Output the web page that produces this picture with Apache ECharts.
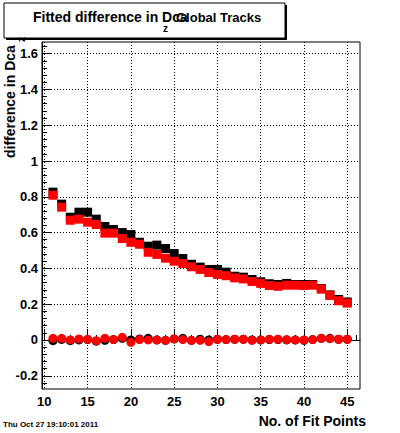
<!DOCTYPE html>
<html>
<head>
<meta charset="utf-8">
<script src="https://cdn.jsdelivr.net/npm/echarts@6/dist/echarts.min.js"></script>
<style>
html,body{margin:0;padding:0;background:#fff;}
#c{width:400px;height:433px;}
</style>
</head>
<body>
<div id="c"></div>
<script>
// ---- data ----
var fitPoints = [11,12,13,14,15,16,17,18,19,20,21,22,23,24,25,26,27,28,29,30,31,32,33,34,35,36,37,38,39,40,41,42,43,44,45];
var blackSigma = [0.826,0.759,0.686,0.714,0.714,0.675,0.634,0.617,0.600,0.589,0.546,0.524,0.530,0.511,0.483,0.455,0.423,0.407,0.394,0.394,0.379,0.356,0.351,0.338,0.325,0.314,0.310,0.316,0.310,0.310,0.310,0.287,0.252,0.226,0.212];
var redSigma   = [0.809,0.742,0.669,0.675,0.658,0.645,0.597,0.597,0.567,0.546,0.535,0.490,0.478,0.457,0.440,0.427,0.409,0.394,0.377,0.366,0.359,0.347,0.341,0.327,0.316,0.304,0.300,0.306,0.306,0.304,0.306,0.284,0.249,0.219,0.206];
var blackMean  = [-0.004,0.003,-0.004,0.000,0.002,-0.007,-0.002,0.002,0.009,0.000,0.006,0.009,0.000,-0.002,0.006,0.009,-0.002,0.004,0.000,0.004,0.002,0.004,0.004,0.000,0.000,0.002,0.002,0.000,0.000,-0.002,0.002,0.009,0.009,0.004,0.004];
var redMean    = [0.009,0.009,0.000,0.006,0.004,-0.004,0.009,0.002,0.015,-0.013,0.002,0.000,0.000,-0.002,0.006,0.002,-0.002,-0.002,-0.009,0.004,0.002,0.004,0.004,-0.002,0.000,0.004,0.004,0.002,0.000,0.000,0.002,0.009,0.007,0.004,0.004];
var xMajorTicks = [10,15,20,25,30,35,40,45];
var xMinorTicks = [10,11,12,13,14,15,16,17,18,19,20,21,22,23,24,25,26,27,28,29,30,31,32,33,34,35,36,37,38,39,40,41,42,43,44,45,46];
var yMajorTicks = [-0.2,0,0.2,0.4,0.6,0.8,1.0,1.2,1.4,1.6];
var titleMain = 'Fitted difference in Dca';
var titleSub = 'z';
var titleTail = 'Global Tracks';
var xTitle = 'No. of Fit Points';
var yTitle = 'difference in Dca';
var dateText = 'Thu Oct 27 19:10:01 2011';

var yMinorTicks = [];
for (var k = -6; k <= 41; k++) yMinorTicks.push(Math.round(k * 0.04 * 100) / 100);

function pairs(ys) { return fitPoints.map(function (x, i) { return [x, ys[i]]; }); }

var X_MIN = 9.73, X_MAX = 46.47, Y_MIN = -0.274, Y_MAX = 1.665;
var FONT = 'Liberation Sans';
var dotted = { color: '#000', width: 1, type: [1, 2] };

var chart = echarts.init(document.getElementById('c'), null, { renderer: 'svg' });
chart.setOption({
  animation: false,
  backgroundColor: '#fff',
  grid: { left: 42, right: 40, top: 42, bottom: 44, show: true, borderColor: '#000', borderWidth: 1, backgroundColor: 'transparent', containLabel: false },
  xAxis: [
    { type: 'value', min: X_MIN, max: X_MAX, position: 'bottom',
      axisLine: { show: true, lineStyle: { color: '#000', width: 1 } },
      axisTick: { show: true, inside: true, length: 11, customValues: xMajorTicks, lineStyle: { color: '#000' } },
      axisLabel: { show: true, customValues: xMajorTicks, margin: 6, color: '#000', fontFamily: FONT, fontWeight: 'bold', fontSize: 13 },
      splitLine: { show: true, lineStyle: dotted } },
    { type: 'value', min: X_MIN, max: X_MAX, position: 'bottom',
      axisLine: { show: false },
      axisTick: { show: true, inside: true, length: 5, customValues: xMinorTicks, lineStyle: { color: '#000' } },
      axisLabel: { show: false },
      splitLine: { show: false } }
  ],
  yAxis: [
    { type: 'value', min: Y_MIN, max: Y_MAX, position: 'left',
      axisLine: { show: true, lineStyle: { color: '#000', width: 1 } },
      axisTick: { show: true, inside: true, length: 9, customValues: yMajorTicks, lineStyle: { color: '#000' } },
      axisLabel: { show: true, customValues: yMajorTicks, margin: 4, color: '#000', fontFamily: FONT, fontWeight: 'bold', fontSize: 13,
        formatter: function (v) { return String(Math.round(v * 10) / 10); } },
      splitLine: { show: true, lineStyle: dotted } },
    { type: 'value', min: Y_MIN, max: Y_MAX, position: 'left',
      axisLine: { show: false },
      axisTick: { show: true, inside: true, length: 5, customValues: yMinorTicks, lineStyle: { color: '#000' } },
      axisLabel: { show: false },
      splitLine: { show: false } }
  ],
  series: [
    { type: 'scatter', data: pairs(blackSigma), symbol: 'rect', symbolSize: 9, itemStyle: { color: '#000', opacity: 1 }, z: 2 },
    { type: 'scatter', data: pairs(blackMean), symbol: 'circle', symbolSize: 9, itemStyle: { color: '#000', opacity: 1 }, z: 2 },
    { type: 'scatter', data: pairs(redSigma), symbol: 'rect', symbolSize: 9, itemStyle: { color: '#ff0000', opacity: 1 }, z: 3 },
    { type: 'scatter', data: pairs(redMean), symbol: 'circle', symbolSize: 9, itemStyle: { color: '#ff0000', opacity: 1 }, z: 3 }
  ],
  graphic: [
    { type: 'rect', shape: { x: 6, y: 5, width: 281, height: 35 }, style: { fill: '#000' }, z: 10 },
    { type: 'rect', shape: { x: 4, y: 3, width: 281, height: 35 }, style: { fill: '#fff', stroke: '#000', lineWidth: 1 }, z: 11 },
    { type: 'text', x: 33, y: 17, style: { text: titleMain, fill: '#000', font: 'bold 14px "Liberation Sans"', textVerticalAlign: 'middle' }, z: 12 },
    { type: 'text', x: 163, y: 28, style: { text: titleSub, fill: '#000', font: 'bold 10px "Liberation Sans"', textVerticalAlign: 'middle' }, z: 12 },
    { type: 'text', x: 176, y: 17, style: { text: titleTail, fill: '#000', font: 'bold 13px "Liberation Sans"', textVerticalAlign: 'middle' }, z: 12 },
    { type: 'text', x: 10, y: 158, rotation: Math.PI / 2, style: { text: yTitle, fill: '#000', font: 'bold 14px "Liberation Sans"', textAlign: 'left', textVerticalAlign: 'middle' }, z: 12 },
    { type: 'text', x: 21, y: 42, rotation: Math.PI / 2, style: { text: titleSub, fill: '#000', font: 'bold 10px "Liberation Sans"', textAlign: 'left', textVerticalAlign: 'middle' }, z: 12 },
    { type: 'text', x: 366, y: 421, style: { text: xTitle, fill: '#000', font: 'bold 14px "Liberation Sans"', textAlign: 'right', textVerticalAlign: 'middle' }, z: 12 },
    { type: 'text', x: 3, y: 424, style: { text: dateText, fill: '#000', font: 'bold 8px "Liberation Sans"', textAlign: 'left', textVerticalAlign: 'middle' }, z: 12 }
  ]
});
</script>
</body>
</html>
